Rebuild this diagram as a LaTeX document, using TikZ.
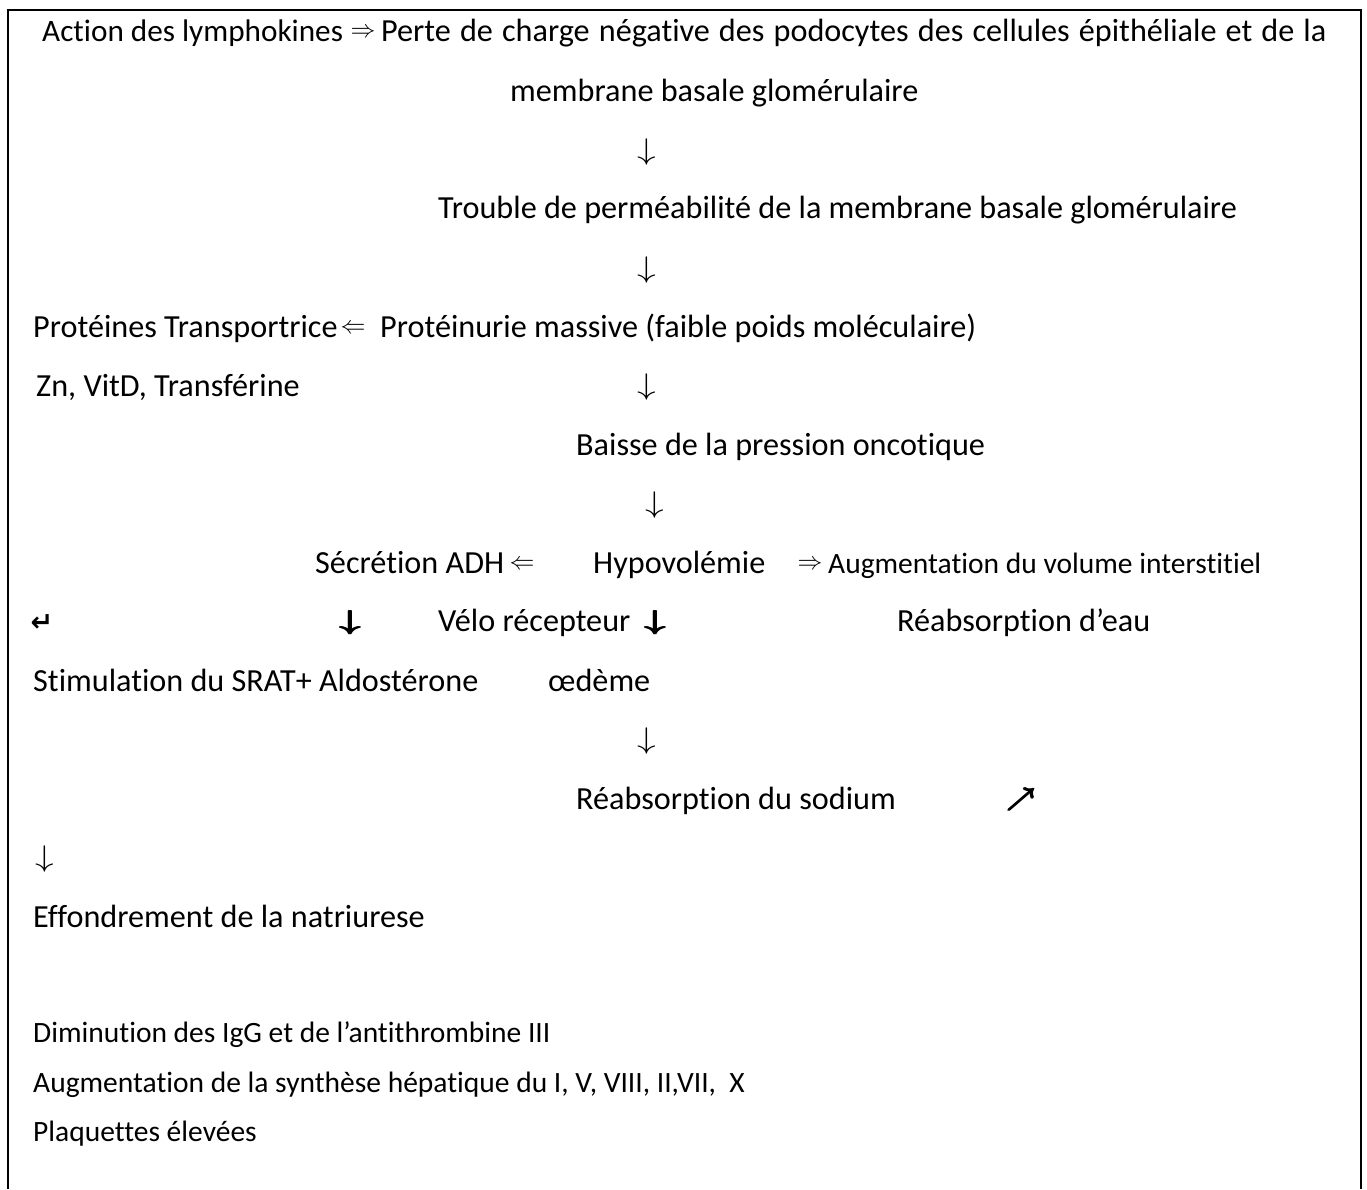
\documentclass[tikz,border=0pt]{standalone}
\usepackage{graphicx}
\usepackage{fontspec}
\setmainfont{Carlito}[Ligatures={NoCommon}]
\newfontfamily\dvsans{DejaVu Sans}
\begin{document}
\begin{tikzpicture}[x=1pt,y=-1pt,
  txt/.style={anchor=west,inner sep=0pt,yshift=-6pt,text height=.65em,text depth=0pt,font=\fontsize{32.2}{36}\selectfont},
  small/.style={anchor=west,inner sep=0pt,yshift=-6pt,text height=.65em,text depth=0pt,font=\fontsize{29.5}{32}\selectfont},
  arr/.style={inner sep=0pt,font=\fontsize{32}{36}\selectfont},
  darr/.style={inner sep=0pt,font=\fontsize{33}{36}\selectfont},
  barr/.style={inner sep=0pt,font=\fontsize{32}{36}\selectfont\boldmath},
  harr/.style={inner sep=0pt,font=\fontsize{27}{30}\selectfont\dvsans\bfseries}]
\newcommand\thindown{\scalebox{1.5}[1.2]{$\downarrow$}}
\newcommand\fatglyph[1]{\rlap{#1}\kern0.7pt\rlap{#1}\kern0.7pt#1}
\newcommand\fatterglyph[1]{\rlap{#1}\kern0.6pt\rlap{\raisebox{0.6pt}{#1}}\kern0.6pt\rlap{#1}\kern0.6pt\raisebox{0.6pt}{#1}}
\useasboundingbox (0,0) rectangle (1367,1189);
\draw[line width=2.2pt] (8,1189) -- (8,10) -- (1361,10) -- (1361,1189);
% line 1
\node[txt,font=\fontsize{31.2}{36}\selectfont] (a1) at (42,32) {Action des lymphokines};
\node[darr] (a2) at (363,33) {$\Rightarrow$};
\node[txt] (a3) at (381,32) {\makebox[945pt][s]{Perte de charge négative des podocytes des cellules épithéliale et de la}};
\node[txt] (a4) at (510,92) {membrane basale glomérulaire};
\node[arr] (d1) at (647,152) {\thindown};
\node[txt] (b1) at (438,209) {Trouble de perméabilité de la membrane basale glomérulaire};
\node[arr] (d2) at (647,270) {\thindown};
\node[txt] (c1) at (33,328) {Protéines Transportrice};
\node[darr] (c2) at (353,329) {$\Leftarrow$};
\node[txt] (c3) at (380,328) {Protéinurie massive (faible poids moléculaire)};
\node[txt] (c4) at (36,387) {Zn, VitD, Transférine};
\node[arr] (d3) at (647,387) {\thindown};
\node[txt] (e1) at (576,446) {Baisse de la pression oncotique};
\node[arr] (d4) at (655,505) {\thindown};
\node[txt] (f1) at (315,564) {Sécrétion ADH};
\node[darr] (f2) at (522,565) {$\Leftarrow$};
\node[txt] (f3) at (593,564) {Hypovolémie};
\node[darr] (f4) at (810,565) {$\Rightarrow$};
\node[small] (f5) at (828,564) {Augmentation du volume interstitiel};
\node[harr] (g0) at (42,623) {↵};
\node[barr] (g1) at (350,623) {\scalebox{1.45}[1.1]{\fatglyph{$\downarrow$}}};
\node[txt] (g2) at (438,622) {Vélo récepteur};
\node[barr] (g3) at (655,623) {\scalebox{1.45}[1.1]{\fatglyph{$\downarrow$}}};
\node[txt] (g4) at (897,622) {Réabsorption d’eau};
\node[txt] (h1) at (33,682) {Stimulation du SRAT+ Aldostérone};
\node[txt] (h2) at (548,682) {œdème};
\node[arr] (d5) at (647,741) {\thindown};
\node[txt] (i1) at (576,800) {Réabsorption du sodium};
\node[barr,font=\fontsize{23}{28}\selectfont\boldmath] (i2) at (1021,800) {\fatterglyph{$\nearrow$}};
\node[arr] (d6) at (45,859) {\thindown};
\node[txt] (j1) at (33,918) {Effondrement de la natriurese};
\node[small] (k1) at (33,1033) {Diminution des IgG et de l’antithrombine III};
\node[small] (k2) at (33,1083) {Augmentation de la synthèse hépatique du I, V, VIII, II,VII,\ \ X};
\node[small] (k3) at (33,1132) {Plaquettes élevées};
\end{tikzpicture}
\end{document}
